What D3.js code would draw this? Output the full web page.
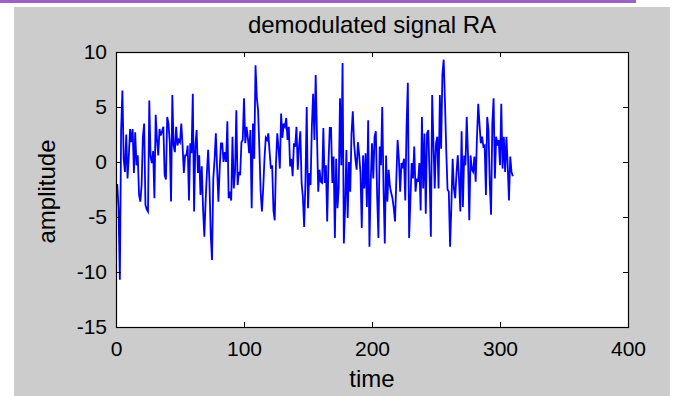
<!DOCTYPE html>
<html>
<head>
<meta charset="utf-8">
<script src="https://cdn.jsdelivr.net/npm/d3@7/dist/d3.min.js"></script>
<style>
  html, body { margin: 0; padding: 0; background: #ffffff; }
  svg { display: block; font-family: "Liberation Sans", Arial, sans-serif; }
</style>
</head>
<body>
<div id="chart"></div>
<script>
// demodulated signal RA, one sample per time step
const amplitude = [
  -2.0, -4.3, -10.7, 2.9, 6.5, 0.3, -0.9, 2.5, -1.5, 0.5,
  3.0, 1.8, 3.0, -1.0, 2.7, -0.3, 0.6, -3.0, -3.6, -2.1,
  2.3, 3.5, -3.9, -4.3, -4.5, 5.6, 0.5, -0.1, 1.0, -3.3,
  4.3, 2.1, 0.6, 3.0, 2.4, 2.8, 3.2, -1.2, -1.6, 4.1,
  3.5, 1.8, -3.6, 6.1, 1.5, 0.9, 3.2, 1.5, 2.0, 1.8,
  3.5, 1.5, -1.0, 0.6, 0.6, 1.5, -3.5, 1.7, 0.8, 6.2,
  -4.5,
  1.5, 2.9, -1.0, 0.6, -3.0, -0.4, -4.2, -6.8, -3.6, -1.0,
  1.1, -1.8, -6.6, -8.9, -1.5, 0.2, 2.6, -0.6, -3.6, -0.6,
  1.7, 1.7, 0.0, 0.9, 0.0, 3.7, -3.3, -2.7, -3.5, 2.3,
  -2.4, -0.9, 4.7, -2.1, -0.9, -1.2, 1.8, 2.0, 5.8, 1.7,
  3.2, 2.2, 0.8, 2.9, -4.2, 3.5, 0.3, 8.8, 5.9, 4.7,
  1.2, -2.7, -4.5, -2.4, 0.3, 2.2, 2.0, 2.6, 0.9, -0.6,
  -0.3, -4.4, -5.3,
  -0.1, 2.6, 1.2, -0.6, 4.4, 2.2, 3.5, 3.2, 4.0, 2.0,
  3.2, -0.4, 0.3, -1.3, 1.7, 1.4, 3.2, -0.7, 1.4, 2.8,
  -1.9, -3.2, -5.9, -1.8, 5.0, -4.2, -1.0, -2.1, 3.2, 6.2,
  2.0, 7.9, 2.5, -2.7, -0.7, -1.8, -1.9, 3.1, -1.9, -0.3,
  -5.4, -0.1, 3.1, 3.1, -1.9, 0.5, -6.9, 0.3, -4.2, -2.4,
  5.8, -0.3, 9.0, -7.4, -4.1, 1.1, -5.1, 0.0, -2.7, 2.6,
  4.6, 1.7,
  0.3, -0.7, 1.8, 0.6, -1.0, -6.0, 0.6, -2.4, 0.8, -4.1,
  3.8, -7.7, -1.8, 1.7, -1.5, 2.3, 2.8, -3.0, -6.9, 1.4,
  -0.3, 5.0, -2.4, -7.4, 0.6, -3.6, -0.7, -2.2, -2.8, -3.3,
  -4.2, -5.4, -1.6, 2.0, 0.3, -2.7, -0.1, -0.4, 0.3, -3.5,
  3.2, 7.2, -6.9, -3.5, -0.1, -1.5, 1.4, -2.7, -1.5, -1.8,
  -0.1, -4.4, 4.1, -2.4, 2.6, -4.7, 2.6, 2.9, -1.3, -6.8,
  6.1, 1.7, -2.4,
  1.7, 2.3, -2.4, 6.1, 1.2, 8.0, 9.3, 5.5, 1.1, -2.5,
  -2.7, -7.7, -4.0, 0.3, -2.4, -3.3, -1.0, 0.6, -1.6, -4.5,
  2.8, -4.1, 0.6, -0.3, 4.1, 0.6, -5.3, 0.6, -0.7, -0.9,
  0.5, -1.8, 2.2, 5.3, 3.4, 1.7, 2.3, 1.4, 1.5, -3.0,
  4.1, 2.9, -1.9, -4.8, 3.5, 5.8, -1.5, 2.3, 1.5, 2.0,
  -0.3, 5.3, -0.6, 2.3, -0.9, 2.3, -0.3, -3.5, 0.5, -0.9,
  -1.3
];

const xTicks = [0, 100, 200, 300, 400];
const yTicks = [-15, -10, -5, 0, 5, 10];
const xDomain = [0, 400];
const yDomain = [-15, 10];

const titleText = 'demodulated signal RA';
const xLabel = 'time';
const yLabel = 'amplitude';

const width = 688, height = 396;
const box = { left: 116, right: 628, top: 52, bottom: 327 };

const svg = d3.select('#chart').append('svg')
  .attr('width', width)
  .attr('height', height);

// figure background (grey MATLAB window) + purple strip above it
svg.append('rect')
  .attr('x', 14).attr('y', 7)
  .attr('width', 656).attr('height', height - 7)
  .attr('fill', '#cccccc');
svg.append('rect')
  .attr('x', 0).attr('y', 0)
  .attr('width', 636).attr('height', 3)
  .attr('fill', '#9b62c4');

const x = d3.scaleLinear().domain(xDomain).range([box.left, box.right]);
const y = d3.scaleLinear().domain(yDomain).range([box.bottom, box.top]);

// axes area
svg.append('rect')
  .attr('x', box.left).attr('y', box.top)
  .attr('width', box.right - box.left).attr('height', box.bottom - box.top)
  .attr('fill', '#ffffff');

const line = d3.line()
  .x((d, i) => x(i + 1))
  .y(d => y(d));

svg.append('path')
  .datum(amplitude)
  .attr('d', line)
  .attr('fill', 'none')
  .attr('stroke', '#0000ff')
  .attr('stroke-width', 1.8)
  .attr('stroke-linejoin', 'miter');

// axes, ticks pointing inward on all four sides, plain hyphen minus
const tickLen = 5;
const fmt = d => String(d);
const axisStyle = g => {
  g.select('.domain').remove();
  g.selectAll('.tick line').attr('stroke', '#000').attr('stroke-width', 1);
  g.selectAll('.tick text')
    .attr('fill', '#000')
    .attr('font-size', '21px');
};

svg.append('g')
  .attr('transform', `translate(0,${box.bottom})`)
  .call(d3.axisBottom(x).tickValues(xTicks).tickSize(-tickLen).tickPadding(14).tickFormat(fmt))
  .call(axisStyle);

svg.append('g')
  .attr('transform', `translate(0,${box.top})`)
  .call(d3.axisTop(x).tickValues(xTicks).tickSize(-tickLen).tickFormat(''))
  .call(axisStyle);

svg.append('g')
  .attr('transform', `translate(${box.left},0)`)
  .call(d3.axisLeft(y).tickValues(yTicks).tickSize(-tickLen).tickPadding(9).tickFormat(fmt))
  .call(axisStyle);

svg.append('g')
  .attr('transform', `translate(${box.right},0)`)
  .call(d3.axisRight(y).tickValues(yTicks).tickSize(-tickLen).tickFormat(''))
  .call(axisStyle);

svg.append('rect')
  .attr('x', box.left + 0.5).attr('y', box.top + 0.5)
  .attr('width', box.right - box.left).attr('height', box.bottom - box.top)
  .attr('fill', 'none')
  .attr('stroke', '#000')
  .attr('stroke-width', 1.2);

// labels
svg.append('text')
  .attr('x', (box.left + box.right) / 2)
  .attr('y', 33)
  .attr('text-anchor', 'middle')
  .attr('font-size', '24px')
  .attr('fill', '#000')
  .text(titleText);

svg.append('text')
  .attr('x', (box.left + box.right) / 2)
  .attr('y', 387)
  .attr('text-anchor', 'middle')
  .attr('font-size', '24px')
  .attr('fill', '#000')
  .text(xLabel);

svg.append('text')
  .attr('transform', `translate(55,${(box.top + box.bottom) / 2 + 2}) rotate(-90)`)
  .attr('text-anchor', 'middle')
  .attr('font-size', '24px')
  .attr('fill', '#000')
  .text(yLabel);
</script>
</body>
</html>
